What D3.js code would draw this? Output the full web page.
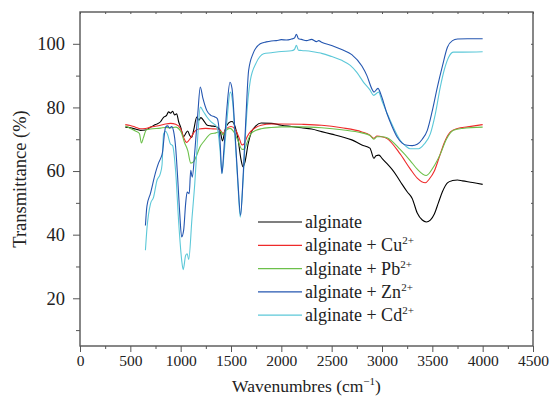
<!DOCTYPE html>
<html>
<head>
<meta charset="utf-8">
<script src="https://cdnjs.cloudflare.com/ajax/libs/d3/7.8.5/d3.min.js"></script>
<style>
  body { margin: 0; background: #fff; }
  svg { display: block; }
  svg text.serif { font-family: "Liberation Serif", serif; }
</style>
</head>
<body>
<svg id="chart" width="554" height="399"></svg>
<script>
// spectra (wavenumber, transmittance)
const alginateX = [450,500,550,600,650,700,750,800,830,860,880,900,920,940,960,980,1000,1030,1050,1070,1090,1110,1130,1160,1180,1200,1230,1260,1300,1350,1390,1415,1440,1480,1510,1540,1570,1600,1620,1640,1670,1700,1750,1800,1900,2000,2100,2200,2300,2400,2500,2600,2700,2800,2880,2920,2940,2970,3000,3050,3100,3150,3200,3250,3300,3350,3400,3440,3480,3520,3560,3600,3650,3700,3750,3800,3900,4000];
const alginateY = [73.8,73.6,73.2,72.8,72.9,73.8,74.6,75.5,76.9,77.5,78.6,78.2,78.8,77.6,78.0,75.5,73.8,70.8,71.8,72.6,71.2,70.6,73.0,77.0,76.0,76.8,75.8,74.5,74.2,74.0,73.0,69.5,72.8,75.2,75.6,74.0,70.0,63.5,61.3,63.0,68.5,72.0,74.3,75.1,75.0,74.4,74.0,73.6,73.2,72.4,71.6,70.8,69.8,68.2,67.2,64.0,64.8,65.0,64.0,62.3,60.5,58.3,55.8,53.5,51.4,46.8,44.6,44.0,44.6,46.5,50.0,53.5,56.3,57.0,57.2,56.9,56.4,55.8];

const cuX = [450,500,550,600,650,700,800,850,900,950,1000,1030,1060,1090,1110,1140,1180,1250,1300,1360,1400,1420,1450,1500,1540,1580,1610,1630,1660,1700,1750,1800,1900,2000,2200,2400,2600,2800,2880,2920,2950,3000,3050,3180,3280,3350,3430,3470,3520,3570,3620,3680,3750,3850,4000];
const cuY = [74.6,74.3,73.8,73.3,73.4,73.8,74.4,74.8,75.0,74.7,73.3,70.5,69.0,70.0,71.0,72.5,73.2,73.4,73.3,73.2,72.6,71.8,73.2,74.0,73.2,70.5,68.2,68.5,70.8,72.6,73.8,74.4,74.8,74.8,74.7,74.4,73.6,72.3,71.3,70.3,71.0,70.8,70.2,65.4,60.7,57.8,56.3,57.5,60.0,64.5,69.0,72.3,73.4,73.9,74.6];

const pbX = [450,500,550,590,610,630,660,700,800,850,900,950,1000,1040,1070,1100,1130,1160,1190,1230,1300,1350,1400,1420,1450,1490,1530,1570,1610,1635,1660,1700,1750,1800,1900,2000,2200,2400,2600,2800,2880,2920,2950,3000,3050,3180,3280,3350,3440,3510,3580,3640,3710,3800,4000];
const pbY = [74.2,73.4,72.6,71.8,68.8,70.5,73.0,73.2,73.5,73.7,73.6,73.8,72.5,68.8,66.5,62.5,63.0,65.0,67.5,69.3,71.7,72.0,72.4,71.4,72.8,73.4,72.2,69.5,66.8,66.9,69.0,71.8,72.8,73.3,73.7,73.9,73.9,73.6,73.0,72.0,71.2,70.0,70.8,70.8,70.5,66.8,63.3,60.6,58.6,61.2,65.4,70.0,72.8,73.4,73.8];

const znX = [650,665,700,750,780,800,820,840,850,870,890,910,930,950,970,990,1010,1030,1050,1065,1085,1100,1115,1140,1170,1195,1220,1260,1300,1340,1365,1390,1410,1430,1460,1490,1510,1540,1570,1595,1620,1650,1675,1720,1790,1850,1900,1950,2000,2050,2100,2130,2150,2170,2200,2250,2300,2350,2370,2400,2500,2600,2700,2800,2850,2900,2920,2960,2990,3050,3100,3150,3200,3250,3300,3350,3400,3450,3500,3550,3600,3650,3700,3750,3850,4000];
const znY = [42.9,49.0,53.0,59.5,62.5,63.9,66.0,72.0,73.8,74.2,73.5,74.0,72.5,67.5,58.0,47.0,39.3,41.5,50.0,53.4,52.9,60.2,58.1,66.0,78.0,86.4,83.0,79.0,77.5,77.0,76.4,70.0,59.2,67.0,80.0,87.9,86.0,72.0,56.0,46.1,58.0,78.0,91.6,97.0,100.0,100.6,100.9,101.0,101.3,101.2,101.5,101.8,103.0,101.6,101.4,101.0,101.4,100.7,101.0,100.5,99.5,98.2,96.6,93.0,90.0,85.8,84.8,86.0,84.0,78.0,74.0,70.7,68.8,68.1,68.0,68.4,70.0,72.8,79.0,86.4,93.0,98.9,101.0,101.5,101.6,101.6];

const cdX = [650,665,700,731,765,798,815,830,850,870,897,920,950,980,1010,1025,1050,1065,1080,1112,1140,1170,1195,1230,1261,1300,1361,1390,1410,1430,1460,1493,1515,1545,1570,1592,1620,1650,1692,1750,1824,1900,2000,2100,2130,2150,2170,2200,2300,2370,2400,2500,2600,2685,2750,2817,2880,2917,2966,3000,3082,3182,3230,3281,3364,3420,3480,3530,3579,3620,3662,3711,3800,4000];
const cdY = [35.1,41.9,49.7,51.8,57.1,59.2,62.0,71.7,72.5,71.5,68.6,68.0,60.0,44.0,32.0,29.0,33.5,34.0,32.2,45.0,56.0,71.0,80.1,78.5,77.0,75.5,73.8,67.0,59.2,65.0,76.0,84.8,82.0,68.0,55.0,45.5,57.0,75.0,88.5,94.0,96.9,97.2,97.6,97.8,98.2,99.5,98.0,97.9,97.6,97.2,97.0,96.0,94.8,93.2,91.0,87.9,85.5,83.8,84.8,82.0,75.9,69.6,68.0,67.0,67.0,68.5,71.7,78.0,86.4,92.0,95.8,97.4,97.4,97.5];

const seriesNames = ['alginate', 'alginate + Cu', 'alginate + Pb', 'alginate + Zn', 'alginate + Cd'];
const seriesColors = ['#000000', '#ee2a2a', '#6cc04a', '#2456b0', '#5cc8d8'];
const seriesX = [alginateX, cuX, pbX, znX, cdX];
const seriesY = [alginateY, cuY, pbY, znY, cdY];

const xTicks = [0,500,1000,1500,2000,2500,3000,3500,4000,4500];
const xMinor = [250,750,1250,1750,2250,2750,3250,3750,4250];
const yTicks = [20,40,60,80,100];
const yMinor = [10,30,50,70,90];

const fontName = 'Liberation Serif';
const margin = { left: 80, right: 21, top: 12, bottom: 53 };
const size = { width: 554, height: 399 };

const svg = d3.select('#chart');

const x = d3.scaleLinear()
    .domain([0, 4500])
    .range([margin.left, size.width - margin.right]);

const y = d3.scaleLinear()
    .domain([5, 110])
    .range([size.height - margin.bottom, margin.top]);

const plotW = x(4500) - x(0);
const plotH = y(5) - y(110);

// curves
const line = d3.line()
    .x(d => x(d[0]))
    .y(d => y(d[1]))
    .curve(d3.curveMonotoneX);

const drawOrder = [0, 1, 2, 4, 3];
drawOrder.forEach(i => {
    const pts = seriesX[i].map((v, k) => [v, seriesY[i][k]]);
    svg.append('path')
        .datum(pts)
        .attr('d', line)
        .attr('fill', 'none')
        .attr('stroke', seriesColors[i])
        .attr('stroke-width', 1.1);
});

// axes
const axisColor = '#555';
function styleAxis(fontSize) {
    return g => {
        g.attr('font-family', fontName).attr('font-size', fontSize);
        g.select('.domain').remove();
        g.selectAll('.tick line').attr('stroke', axisColor).attr('stroke-width', 1);
        g.selectAll('.tick text')
            .attr('class', 'serif')
            .attr('font-family', fontName)
            .style('font-family', fontName)
            .style('font-size', fontSize + 'px')
            .attr('fill', '#222');
    };
}

svg.append('g')
    .attr('transform', `translate(0,${y(5)})`)
    .call(d3.axisBottom(x).tickValues(xTicks).tickSize(6).tickPadding(3).tickFormat(d3.format('d')))
    .call(styleAxis(15.5));

svg.append('g')
    .attr('transform', `translate(0,${y(5)})`)
    .call(d3.axisBottom(x).tickValues(xMinor).tickSize(3).tickFormat(''))
    .call(styleAxis(15.5));

svg.append('g')
    .attr('transform', `translate(${x(0)},0)`)
    .call(d3.axisLeft(y).tickValues(yTicks).tickSize(7).tickPadding(8))
    .call(styleAxis(18.5));

svg.append('g')
    .attr('transform', `translate(${x(0)},0)`)
    .call(d3.axisLeft(y).tickValues(yMinor).tickSize(4).tickFormat(''))
    .call(styleAxis(18.5));

// inner ticks on top and right
svg.append('g')
    .attr('transform', `translate(0,${y(110)})`)
    .call(d3.axisTop(x).tickValues(xTicks.concat(xMinor)).tickSize(-2).tickFormat(''))
    .call(styleAxis(15.5));

svg.append('g')
    .attr('transform', `translate(${x(4500)},0)`)
    .call(d3.axisRight(y).tickValues(yTicks.concat(yMinor)).tickSize(-2).tickFormat(''))
    .call(styleAxis(15.5));

svg.append('rect')
    .attr('x', x(0))
    .attr('y', y(110))
    .attr('width', plotW)
    .attr('height', plotH)
    .attr('fill', 'none')
    .attr('stroke', axisColor)
    .attr('stroke-width', 1.4);

// axis titles
const xTitle = svg.append('text')
    .attr('class', 'serif')
    .attr('x', (x(0) + x(4500)) / 2)
    .attr('y', 392)
    .attr('text-anchor', 'middle')
    .attr('fill', '#222')
    .attr('font-family', fontName)
    .style('font-family', fontName)
    .style('font-size', '17.5px');
xTitle.append('tspan').text('Wavenumbres (cm');
xTitle.append('tspan').text('\u2212' + '1').attr('dy', -7).style('font-size', '11px');
xTitle.append('tspan').text(')').attr('dy', 7);

svg.append('text')
    .attr('class', 'serif')
    .attr('transform', `translate(26,${(y(5) + y(110)) / 2}) rotate(-90)`)
    .attr('text-anchor', 'middle')
    .attr('fill', '#222')
    .attr('font-family', fontName)
    .style('font-family', fontName)
    .style('font-size', '18.5px')
    .text('Transmittance (%)');

// legend
const legend = svg.append('g').attr('transform', 'translate(258,222)');
seriesNames.forEach((name, i) => {
    const row = legend.append('g').attr('transform', `translate(0,${i * 23.3})`);
    row.append('line')
        .attr('x1', 0).attr('x2', 44)
        .attr('y1', 0).attr('y2', 0)
        .attr('stroke', seriesColors[i])
        .attr('stroke-width', 1.2);
    const t = row.append('text')
        .attr('class', 'serif')
        .attr('x', 47)
        .attr('y', 6)
        .attr('fill', '#222')
        .attr('font-family', fontName)
        .style('font-family', fontName)
        .style('font-size', '18px');
    t.append('tspan').text(name);
    if (i > 0) {
        t.append('tspan').text('2+').attr('dy', -7).style('font-size', '11px');
    }
});
</script>
</body>
</html>
